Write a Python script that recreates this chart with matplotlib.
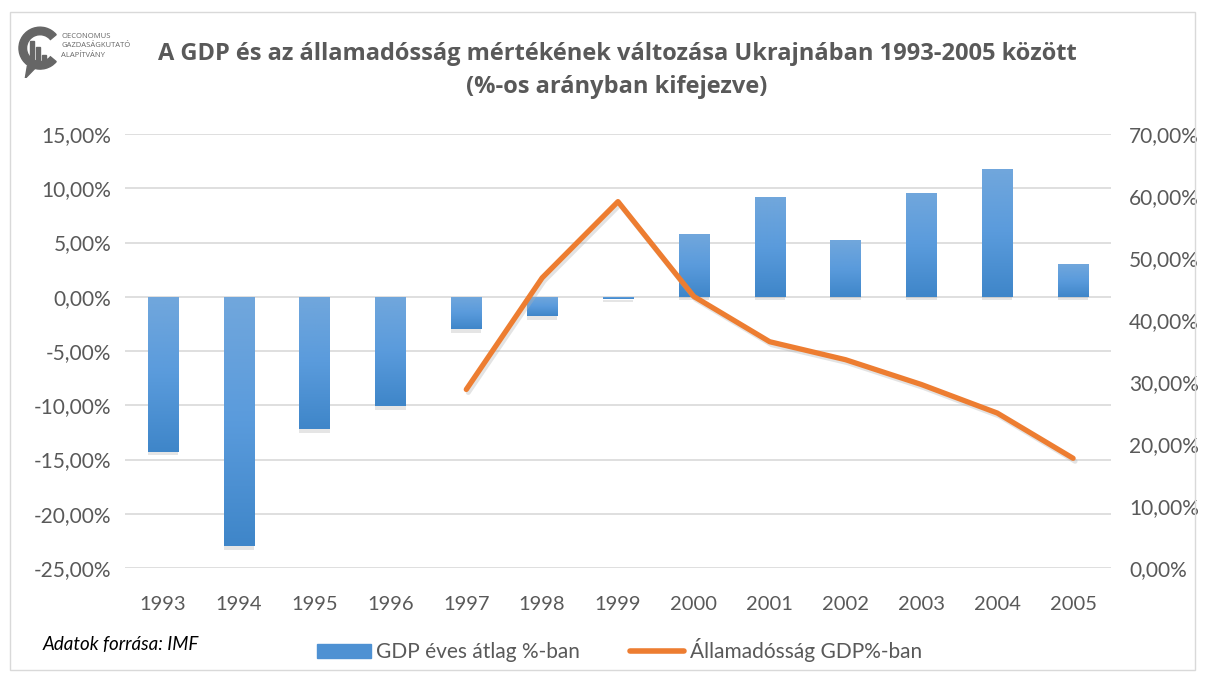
import numpy as np
import matplotlib.pyplot as plt
import matplotlib.transforms as mtransforms
from matplotlib.ticker import FuncFormatter, FixedLocator
from matplotlib.colors import LinearSegmentedColormap
from matplotlib.patches import Rectangle, Wedge, Patch
from matplotlib.lines import Line2D

years = ['1993', '1994', '1995', '1996', '1997', '1998', '1999',
         '2000', '2001', '2002', '2003', '2004', '2005']
gdp_change = [-14.3, -23.0, -12.2, -10.1, -3.0, -1.8, -0.2,
              5.8, 9.2, 5.2, 9.6, 11.8, 3.0]
debt_years = ['1997', '1998', '1999', '2000', '2001', '2002', '2003', '2004', '2005']
debt_ratio = [28.8, 46.8, 59.1, 43.8, 36.5, 33.6, 29.6, 25.0, 17.7]

title = 'A GDP és az államadósság mértékének változása Ukrajnában 1993-2005 között\n(%-os arányban kifejezve)'
label_gdp = 'GDP éves átlag %-ban'
label_debt = 'Államadósság GDP%-ban'
source = 'Adatok forrása: IMF'

txt = '#595959'
blue = '#4e91d3'
orange = '#ed7d31'
grid = '#d9d9d9'
bar_cmap = LinearSegmentedColormap.from_list('bars', ['#3f86c9', '#5a9bdc', '#71a7dc'])

plt.rcParams['font.family'] = ['Lato', 'DejaVu Sans']

fig = plt.figure(figsize=(12.05, 6.81), dpi=100)
fig.patches.append(Rectangle((0.008, 0.016), 0.984, 0.966, transform=fig.transFigure,
                             fill=False, ec='#d9d9d9', lw=1))

ax = fig.add_axes([0.1037, 0.1659, 0.8183, 0.6373])
x = np.arange(len(years))

# soft shadow under each bar, then the bars with a vertical gradient
down = mtransforms.ScaledTranslation(0.0, -0.035, fig.dpi_scale_trans)
ax.bar(x, gdp_change, width=0.4, color='#7f7f7f', alpha=0.2, zorder=2,
       transform=ax.transData + down)
bars = ax.bar(x, gdp_change, width=0.4, color=blue, zorder=3)
grad = np.linspace(0, 1, 100).reshape(-1, 1)
for b in bars:
    bx, by = b.get_x(), b.get_y()
    bw, bh = b.get_width(), b.get_height()
    y0, y1 = min(by, by + bh), max(by, by + bh)
    im = ax.imshow(grad, cmap=bar_cmap, aspect='auto', origin='lower',
                   extent=[bx, bx + bw, y0, y1], zorder=3.1)
    im.set_clip_path(b)

ax.set_xlim(-0.5, len(years) - 0.5)
ax.set_ylim(-25, 15)
ax.yaxis.set_major_locator(FixedLocator(np.arange(-25, 15.1, 5)))
ax.yaxis.set_major_formatter(FuncFormatter(lambda v, p: f'{v:.2f}%'.replace('.', ',')))
ax.set_xticks(x)
ax.set_xticklabels(years)
ax.grid(axis='y', color=grid, lw=1.2, zorder=0)
ax.set_axisbelow(True)
for s in ax.spines.values():
    s.set_visible(False)
ax.tick_params(length=0, labelsize=15, colors=txt, pad=10)
ax.tick_params(axis='x', labelsize=14.5, pad=20)

ax2 = ax.twinx()
dx = [years.index(y) for y in debt_years]
shift = mtransforms.ScaledTranslation(0.02, -0.03, fig.dpi_scale_trans)
ax2.plot(dx, debt_ratio, color='#b0b0b0', lw=3.6, alpha=0.35, zorder=1,
         solid_capstyle='round', solid_joinstyle='round',
         transform=ax2.transData + shift)
ax2.plot(dx, debt_ratio, color=orange, lw=3.8, zorder=4,
         solid_capstyle='round', solid_joinstyle='round')
ax2.set_ylim(0, 70)
ax2.yaxis.set_major_locator(FixedLocator(np.arange(0, 70.1, 10)))
ax2.yaxis.set_major_formatter(FuncFormatter(lambda v, p: f'{v:.2f}%'.replace('.', ',')))
for s in ax2.spines.values():
    s.set_visible(False)
ax2.tick_params(length=0, labelsize=15, colors=txt, pad=13)

fig.text(0.512, 0.896, title, ha='center', va='center', fontsize=17,
         fontweight='bold', color=txt, family=['Open Sans', 'DejaVu Sans'],
         linespacing=1.5)

fig.text(0.035, 0.054, source, fontsize=13.5, style='italic', color='black', va='center')

handles = [Patch(color=blue, label=label_gdp),
           Line2D([], [], color=orange, lw=4, solid_capstyle='round', label=label_debt)]
fig.legend(handles=handles, loc='center', bbox_to_anchor=(0.514, 0.045), ncol=2,
           frameon=False, fontsize=15, labelcolor=txt, handlelength=2.6,
           handleheight=0.6, handletextpad=0.25, columnspacing=2.4)

# logo
lax = fig.add_axes([0.014, 0.885, 0.035, 0.08])
lax.set_xlim(0, 1)
lax.set_ylim(0, 1.3)
lax.axis('off')
lax.add_patch(Wedge((0.55, 0.72), 0.5, 40, 320, width=0.18, color='#666666'))
lax.add_patch(Rectangle((0.3, 0.35), 0.1, 0.55, color='#666666'))
lax.add_patch(Rectangle((0.45, 0.35), 0.1, 0.4, color='#666666'))
lax.add_patch(Rectangle((0.6, 0.35), 0.1, 0.2, color='#666666'))
lax.add_patch(plt.Polygon([[0.25, 0.3], [0.45, 0.26], [0.2, 0.0]], color='#666666'))
fig.text(0.051, 0.952, 'OECONOMUS\nGAZDASÁGKUTATÓ\nALAPÍTVÁNY', fontsize=5.5,
         color='#666666', va='top', linespacing=1.5,
         family=['Open Sans', 'DejaVu Sans'])

fig.savefig('out.png', dpi=100)
